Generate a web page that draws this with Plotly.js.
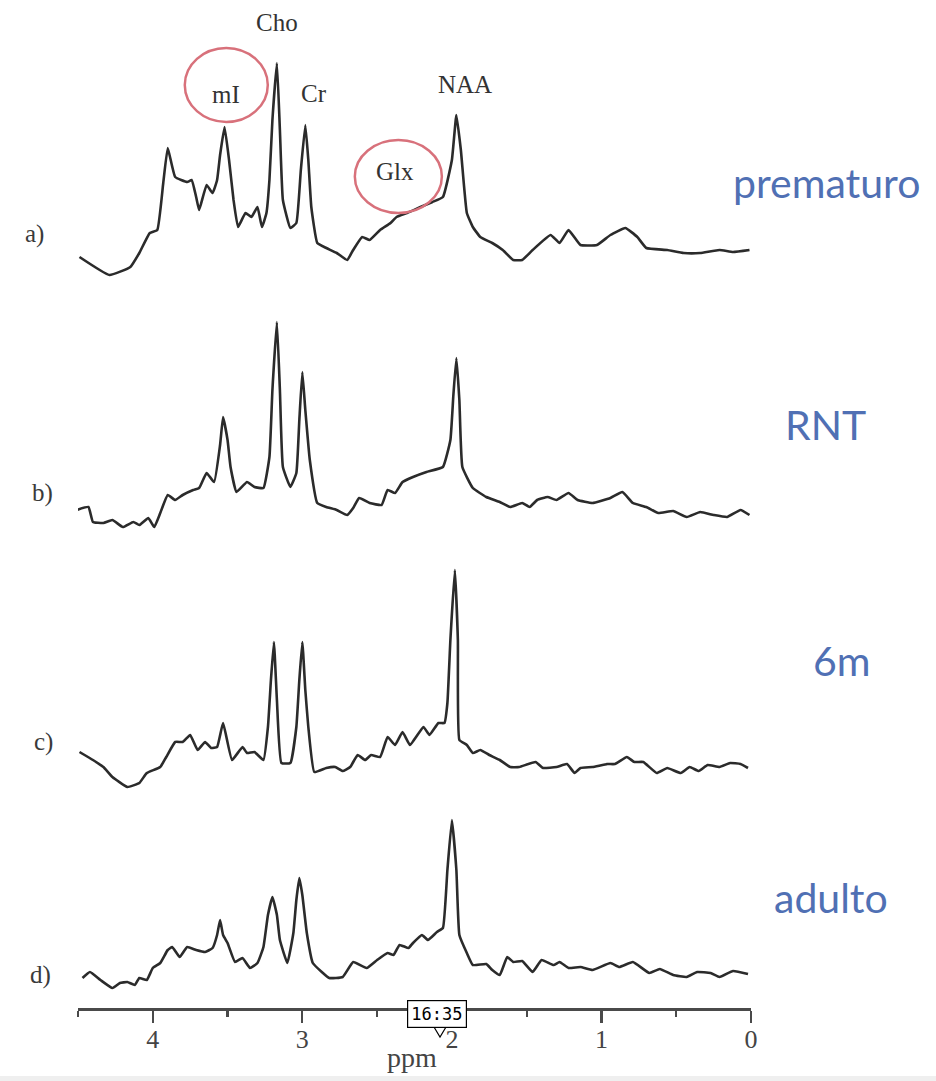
<!DOCTYPE html>
<html>
<head>
<meta charset="utf-8">
<script src="https://cdn.plot.ly/plotly-3.0.1.min.js"></script>
<style>html,body{margin:0;padding:0;background:#fff;}#chart{width:936px;height:1081px;}</style>
</head>
<body>
<div id="chart"></div>
<script>
// ---- Data (chemical shift in ppm, intensity in arbitrary units) ----
const ppmA = [4.49,4.29,4.15,4.09,4.02,3.97,3.93,3.90,3.85,3.77,3.74,3.71,3.69,3.64,3.60,3.57,3.55,3.52,3.49,3.46,3.43,3.38,3.34,3.30,3.27,3.24,3.22,3.20,3.17,3.15,3.13,3.08,3.04,3.01,2.98,2.96,2.94,2.90,2.84,2.77,2.70,2.66,2.60,2.55,2.48,2.41,2.37,2.30,2.21,2.13,2.06,2.00,1.97,1.94,1.90,1.86,1.81,1.73,1.66,1.59,1.53,1.46,1.34,1.28,1.22,1.14,1.03,0.94,0.84,0.76,0.70,0.56,0.45,0.34,0.21,0.12,0.01];
const intA = [23,5,13,27,47,50,97,132,103,98,100,83,70,95,87,100,125,153,120,80,53,67,63,73,53,67,100,160,217,150,80,52,57,110,155,120,73,37,32,27,20,30,43,40,50,57,63,67,73,78,83,120,165,130,67,53,43,37,30,20,20,30,45,37,50,35,35,45,52,43,32,30,27,27,30,28,30];

const ppmB = [4.51,4.43,4.40,4.33,4.27,4.20,4.13,4.09,4.03,3.99,3.95,3.90,3.85,3.80,3.73,3.69,3.64,3.59,3.55,3.53,3.50,3.48,3.44,3.37,3.32,3.26,3.22,3.20,3.17,3.15,3.13,3.08,3.04,3.02,3.00,2.98,2.95,2.90,2.84,2.77,2.70,2.66,2.62,2.55,2.47,2.43,2.38,2.33,2.26,2.17,2.06,2.01,1.99,1.97,1.95,1.93,1.86,1.77,1.68,1.61,1.53,1.48,1.43,1.36,1.30,1.22,1.16,1.06,0.94,0.86,0.79,0.70,0.62,0.52,0.43,0.34,0.25,0.16,0.07,0.01];
const intB = [20,23,8,7,10,3,8,5,12,3,17,35,30,35,40,42,57,48,85,113,90,63,38,48,43,42,73,140,208,140,63,43,57,110,158,120,70,27,23,20,15,22,32,27,25,40,37,48,53,58,63,90,135,172,130,63,42,33,28,23,27,23,30,33,30,37,30,27,32,38,27,23,17,19,13,18,15,13,20,15];

const ppmC = [4.49,4.40,4.33,4.27,4.17,4.09,4.04,3.95,3.91,3.85,3.80,3.75,3.70,3.65,3.61,3.57,3.53,3.47,3.40,3.37,3.32,3.26,3.23,3.21,3.19,3.17,3.14,3.08,3.04,3.02,3.00,2.98,2.96,2.92,2.84,2.78,2.73,2.68,2.63,2.58,2.54,2.48,2.43,2.38,2.33,2.28,2.19,2.15,2.09,2.05,2.03,2.01,1.98,1.96,1.95,1.90,1.86,1.81,1.75,1.68,1.61,1.55,1.44,1.39,1.30,1.23,1.18,1.14,1.06,0.96,0.91,0.83,0.78,0.72,0.63,0.56,0.47,0.41,0.35,0.29,0.21,0.14,0.07,0.02];
const intC = [38,30,23,13,3,7,17,23,33,48,48,55,40,48,42,43,67,30,43,37,38,30,63,110,148,90,27,27,63,110,148,100,63,18,22,23,19,23,35,30,35,33,53,45,58,45,63,55,67,67,87,150,220,150,50,45,37,40,35,30,23,23,28,22,23,26,17,22,23,26,26,33,28,28,17,22,17,23,19,25,23,27,26,22];

const ppmD = [4.47,4.42,4.35,4.27,4.22,4.17,4.12,4.09,4.04,4.00,3.95,3.90,3.87,3.82,3.77,3.71,3.65,3.60,3.57,3.55,3.53,3.50,3.45,3.40,3.35,3.30,3.26,3.23,3.20,3.17,3.15,3.10,3.06,3.04,3.02,3.00,2.97,2.93,2.87,2.82,2.73,2.66,2.57,2.50,2.43,2.39,2.35,2.29,2.26,2.20,2.16,2.10,2.06,2.03,2.00,1.97,1.95,1.90,1.86,1.77,1.73,1.68,1.63,1.59,1.53,1.46,1.40,1.32,1.28,1.22,1.14,1.06,0.94,0.88,0.79,0.68,0.61,0.52,0.43,0.36,0.27,0.21,0.12,0.02];
const intD = [12,18,10,2,7,8,5,12,10,22,27,40,43,33,43,40,38,42,55,70,55,47,28,32,22,27,43,75,93,75,50,27,57,90,112,95,57,27,18,12,13,28,22,30,37,35,45,42,47,55,50,58,62,120,170,120,55,37,25,26,20,15,33,28,29,18,30,25,28,22,23,20,27,23,28,17,21,15,13,18,17,13,19,16];

const spectrumLabels = ['a)', 'b)', 'c)', 'd)'];
const groupNames = ['prematuro', 'RNT', '6m', 'adulto'];
const metabolites = ['Cho', 'mI', 'Cr', 'Glx', 'NAA'];
const metaboliteShift = [3.17, 3.51, 2.92, 2.38, 1.91];
const tickValues = [4, 3, 2, 1, 0];
const tickLabels = ['4', '3', '2', '1', '0'];
const minorTickValues = [4.5, 3.5, 2.5, 1.5, 0.5];
const timestamp = '16:35';

// ---- Layout geometry (pixels of the 936x1081 page) ----
const W = 936, H = 1081;
const L = 78, R = 185, B = 73, T = 0;
const plotW = W - L - R, plotH = H - T - B;
const px = x => (x - L) / plotW;          // page x -> paper x
const py = y => (plotH - y) / plotH;      // page y -> paper y
const yv = y => plotH - y;                // page y -> y-axis value

const series = [[ppmA, intA], [ppmB, intB], [ppmC, intC], [ppmD, intD]];
const baselines = [280, 530, 790, 990]; // page y of each spectrum baseline

const traces = series.map((s, i) => ({
  type: 'scatter', mode: 'lines',
  x: s[0],
  y: s[1].map(v => v + yv(baselines[i])),
  line: {color: '#2b2b2b', width: 2.6, shape: 'spline', smoothing: 0.35},
  hoverinfo: 'skip', showlegend: false
}));

const C = {xanchor: 'center', yanchor: 'middle', showarrow: false};
const annotations = [];
// spectrum letters
const letterPos = [[34, 234], [42, 493], [43, 742], [40, 975]];
spectrumLabels.forEach((t, i) => annotations.push(Object.assign({
  text: t, xref: 'paper', yref: 'paper', x: px(letterPos[i][0]), y: py(letterPos[i][1]),
  font: {family: 'Liberation Serif, serif', size: 25, color: '#3a3a3a'}
}, C)));
// group names
const groupPos = [[826, 182], [825, 425], [842, 660], [831, 897]];
groupNames.forEach((t, i) => annotations.push(Object.assign({
  text: t, xref: 'paper', yref: 'paper', x: px(groupPos[i][0]), y: py(groupPos[i][1]),
  font: {family: 'Lato, sans-serif', size: 41, color: '#5070b4'}
}, C)));
// metabolite labels
const metaboliteY = [22, 94, 93, 171, 84];
metabolites.forEach((t, i) => annotations.push(Object.assign({
  text: t, xref: 'x', yref: 'y', x: metaboliteShift[i], y: yv(metaboliteY[i]),
  font: {family: 'Liberation Serif, serif', size: 25, color: '#333'}
}, C)));
// axis title
annotations.push(Object.assign({
  text: 'ppm', xref: 'paper', yref: 'paper', x: px(412), y: py(1057),
  font: {family: 'Liberation Serif, serif', size: 28, color: '#444'}
}, C));
// video timestamp
annotations.push(Object.assign({
  text: timestamp, xref: 'paper', yref: 'paper', x: px(437), y: py(1014),
  bgcolor: '#ffffff', bordercolor: '#000', borderwidth: 1.2, borderpad: 3,
  font: {family: 'DejaVu Sans Mono, monospace', size: 17, color: '#000'}
}, C));

const shapes = [
  {type: 'circle', xref: 'x', yref: 'y', x0: 3.786, x1: 3.231, y0: yv(48), y1: yv(122),
   line: {color: '#d8717b', width: 2.5}},
  {type: 'circle', xref: 'x', yref: 'y', x0: 2.649, x1: 2.067, y0: yv(140), y1: yv(213),
   line: {color: '#d8717b', width: 2.5}},
  {type: 'path', xref: 'paper', yref: 'paper',
   path: `M ${px(434)},${py(1027)} L ${px(440)},${py(1037)} L ${px(446)},${py(1027)}`,
   line: {color: '#000', width: 1.2}, fillcolor: '#fff'},
  {type: 'rect', xref: 'paper', yref: 'paper', x0: px(0), x1: px(W), y0: py(1076), y1: py(H + 5),
   line: {width: 0}, fillcolor: '#efefef', layer: 'above'}
];

const layout = {
  width: W, height: H,
  margin: {l: L, r: R, t: T, b: B, pad: 0},
  paper_bgcolor: '#ffffff', plot_bgcolor: '#ffffff',
  showlegend: false,
  xaxis: {
    range: [4.5, 0], showgrid: false, zeroline: false,
    showline: true, linecolor: '#4a4a4a', linewidth: 2.6,
    ticks: 'outside', ticklen: 12, tickwidth: 2.2, tickcolor: '#4a4a4a',
    tickmode: 'array', tickvals: tickValues, ticktext: tickLabels,
    ticklabelstandoff: -6,
    minor: {tickmode: 'array', tickvals: minorTickValues, ticks: 'outside', ticklen: 6, tickwidth: 2.2, tickcolor: '#4a4a4a'},
    tickfont: {family: 'Liberation Serif, serif', size: 26, color: '#444'},
    fixedrange: true
  },
  yaxis: {range: [0, plotH], visible: false, fixedrange: true},
  annotations: annotations,
  shapes: shapes
};

Plotly.newPlot('chart', traces, layout, {staticPlot: true, displayModeBar: false});
</script>
</body>
</html>
